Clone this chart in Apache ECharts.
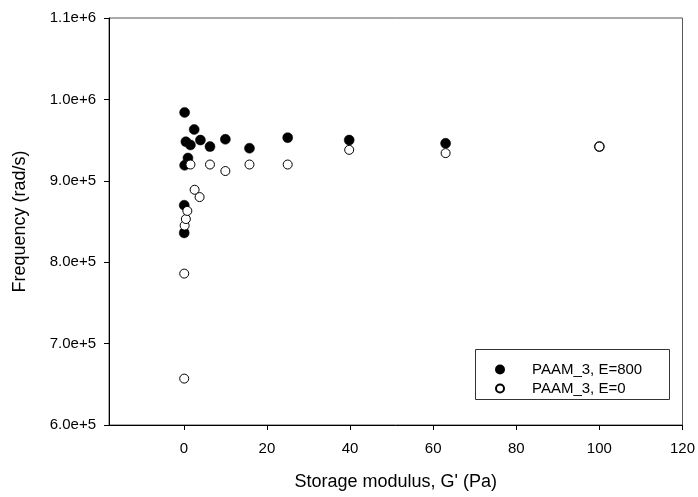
<!DOCTYPE html>
<html>
<head>
<meta charset="utf-8">
<script src="https://cdn.jsdelivr.net/npm/echarts@6/dist/echarts.min.js"></script>
<style>
  html, body { margin: 0; padding: 0; background: #fff; }
  #chart { width: 698px; height: 497px; }
</style>
</head>
<body>
<div id="chart"></div>
<script>
// Data: [storage modulus (Pa), frequency (rad/s)]
var e800Points = [
    [0.1, 836000], [0.1, 870000], [0.2, 919000], [0.2, 984000],
    [0.5, 948000], [1.0, 928000], [1.6, 944000], [2.5, 963000],
    [4.0, 950000], [6.3, 942000], [10, 951000], [15.8, 940000],
    [25, 953000], [39.8, 950000], [63, 946000], [100, 942000]
];
var e0Points = [
    [0.1, 657000], [0.1, 786000], [0.2, 845000], [0.5, 853000],
    [0.85, 863000], [1.6, 920000], [2.6, 889000], [3.8, 880000],
    [6.3, 920000], [10, 912000], [15.8, 920000], [25, 920000],
    [39.8, 938000], [63, 934000], [100, 942000]
];
var xTicks = [0, 20, 40, 60, 80, 100, 120];
var yTicks = [600000, 700000, 800000, 900000, 1000000, 1100000];

var chartDom = document.getElementById('chart');
var myChart = echarts.init(chartDom);
var option;

var font = 'Liberation Sans, Arial, sans-serif';

option = {
    animation: false,
    grid: {
        left: 109,
        right: 14,
        top: 18,
        bottom: 72,
        show: true,
        borderColor: '#555',
        borderWidth: 1
    },
    legend: {
        orient: 'vertical',
        left: 490,
        top: 357,
        itemWidth: 8,
        itemHeight: 8,
        itemGap: 4,
        textStyle: {
            fontFamily: font,
            fontSize: 15,
            color: '#000',
            padding: [0, 0, 0, 23]
        },
        data: ['PAAM_3, E=800', 'PAAM_3, E=0']
    },
    graphic: [{
        type: 'rect',
        left: 473,
        top: 347,
        shape: { width: 194, height: 50 },
        style: { fill: 'none', stroke: '#333', lineWidth: 1 }
    }],
    xAxis: {
        type: 'value',
        min: -18,
        max: 120,
        name: "Storage modulus, G' (Pa)",
        nameLocation: 'middle',
        nameGap: 48,
        nameTextStyle: { fontFamily: font, fontSize: 18, color: '#000' },
        axisLine: { onZero: false, lineStyle: { color: '#000' } },
        axisTick: { show: true, length: 5, customValues: xTicks, lineStyle: { color: '#000' } },
        axisLabel: { customValues: xTicks, fontFamily: font, fontSize: 15, color: '#000', margin: 16 },
        splitLine: { show: false }
    },
    yAxis: {
        type: 'value',
        min: 600000,
        max: 1100000,
        name: 'Frequency (rad/s)',
        nameLocation: 'middle',
        nameGap: 80,
        nameTextStyle: { fontFamily: font, fontSize: 18, color: '#000' },
        axisLine: { show: true, onZero: false, lineStyle: { color: '#000' } },
        axisTick: { show: true, length: 5, customValues: yTicks, lineStyle: { color: '#000' } },
        axisLabel: {
            customValues: yTicks,
            fontFamily: font,
            fontSize: 15,
            color: '#000',
            margin: 13,
            formatter: function (v) {
                return Number(v).toExponential(1);
            }
        },
        splitLine: { show: false }
    },
    series: [{
            name: 'PAAM_3, E=800',
            type: 'scatter',
            symbol: 'circle',
            symbolSize: 10,
            itemStyle: { color: '#000', borderColor: '#000', borderWidth: 0.5, opacity: 1 },
            data: e800Points
        },
        {
            name: 'PAAM_3, E=0',
            type: 'scatter',
            symbol: 'circle',
            symbolSize: 9,
            itemStyle: { color: '#fff', borderColor: '#000', borderWidth: 1, opacity: 1 },
            data: e0Points
        }
    ]
};

option && myChart.setOption(option);
</script>
</body>
</html>
